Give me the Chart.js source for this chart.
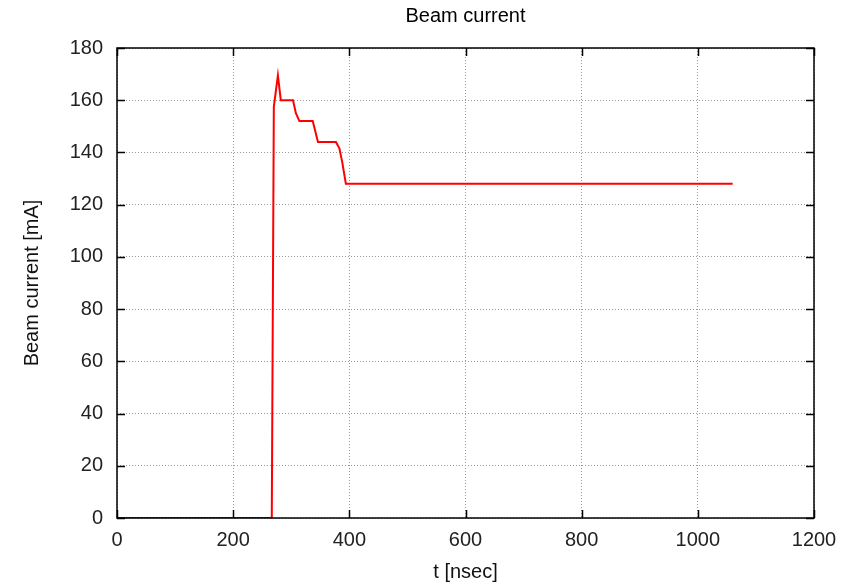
<!DOCTYPE html>
<html>
<head>
<meta charset="utf-8">
<script src="https://cdn.jsdelivr.net/npm/chart.js@4/dist/chart.umd.min.js"></script>
<style>
  html, body { margin: 0; padding: 0; background: #fff; }
  #wrap { width: 855px; height: 585px; }
</style>
</head>
<body>
<div id="wrap"><canvas id="c" width="855" height="585"></canvas></div>
<script>
// Time samples [nsec] and measured beam current [mA]
const timeNs = [0, 266.5, 270, 277, 282, 303, 308, 314, 337, 346, 377, 383, 388, 394, 1060];
const currentMA = [0, 0, 157.5, 169.5, 160, 160, 155, 152, 152, 144, 144, 141.5, 136, 128, 128];

// Tick positions on both axes
const xTicks = [0, 200, 400, 600, 800, 1000, 1200];
const yTicks = [0, 20, 40, 60, 80, 100, 120, 140, 160, 180];

const chartTitle = 'Beam current';
const FONT = "'Liberation Sans', Arial, Helvetica, sans-serif";

// Title centred over the plot area
const titlePlugin = {
  id: 'plotTitle',
  afterDraw(chart) {
    const { ctx, chartArea: a } = chart;
    ctx.save();
    ctx.fillStyle = '#000';
    ctx.font = '20px ' + FONT;
    ctx.textAlign = 'center';
    ctx.textBaseline = 'middle';
    ctx.fillText(chartTitle, (a.left + a.right) / 2, 16);
    ctx.restore();
  }
};

// Frame around the plot area plus inward tick marks on all four sides
const framePlugin = {
  id: 'frame',
  afterDatasetsDraw(chart) {
    const { ctx, chartArea: a, scales } = chart;
    const len = 8;
    ctx.save();
    ctx.strokeStyle = '#000';
    ctx.lineWidth = 1.5;
    ctx.beginPath();
    for (const v of xTicks) {
      const px = Math.round(scales.x.getPixelForValue(v)) + 0.5;
      ctx.moveTo(px, a.bottom); ctx.lineTo(px, a.bottom - len);
      ctx.moveTo(px, a.top); ctx.lineTo(px, a.top + len);
    }
    for (const v of yTicks) {
      const py = Math.round(scales.y.getPixelForValue(v)) + 0.5;
      ctx.moveTo(a.left, py); ctx.lineTo(a.left + len, py);
      ctx.moveTo(a.right, py); ctx.lineTo(a.right - len, py);
    }
    ctx.stroke();
    ctx.strokeRect(a.left, a.top, a.right - a.left, a.bottom - a.top);
    ctx.restore();
  }
};

new Chart(document.getElementById('c'), {
  type: 'line',
  data: {
    datasets: [{
      data: timeNs.map((t, i) => ({ x: t, y: currentMA[i] })),
      borderColor: '#ff0000',
      borderWidth: 2,
      pointRadius: 0,
      tension: 0,
      fill: false
    }]
  },
  options: {
    responsive: false,
    animation: false,
    devicePixelRatio: 1,
    layout: { padding: { left: 0, right: 41, top: 48, bottom: 0 } },
    plugins: {
      legend: { display: false },
      tooltip: { enabled: false },
      title: { display: false }
    },
    scales: {
      x: {
        type: 'linear',
        min: 0,
        max: 1200,
        afterFit(scale) { scale.height = 67; },
        afterBuildTicks(scale) { scale.ticks = xTicks.map(v => ({ value: v })); },
        ticks: {
          color: '#222',
          padding: 10,
          font: { family: FONT, size: 20 },
          maxRotation: 0,
          callback: v => String(v)
        },
        grid: { color: '#999', lineWidth: 1, drawTicks: false },
        border: { display: false, dash: [1, 2] },
        title: {
          display: true,
          text: 't [nsec]',
          color: '#111',
          font: { family: FONT, size: 20 },
          padding: { top: 0, bottom: 1 }
        }
      },
      y: {
        type: 'linear',
        min: 0,
        max: 180,
        afterFit(scale) { scale.width = 117; },
        afterBuildTicks(scale) { scale.ticks = yTicks.map(v => ({ value: v })); },
        ticks: {
          color: '#222',
          padding: 14,
          font: { family: FONT, size: 20 },
          callback: v => String(v)
        },
        grid: { color: '#999', lineWidth: 1, drawTicks: false },
        border: { display: false, dash: [1, 2] },
        title: {
          display: true,
          text: 'Beam current [mA]',
          color: '#111',
          font: { family: FONT, size: 20 },
          padding: { top: 20, bottom: 0 }
        }
      }
    }
  },
  plugins: [framePlugin, titlePlugin]
});
</script>
</body>
</html>
